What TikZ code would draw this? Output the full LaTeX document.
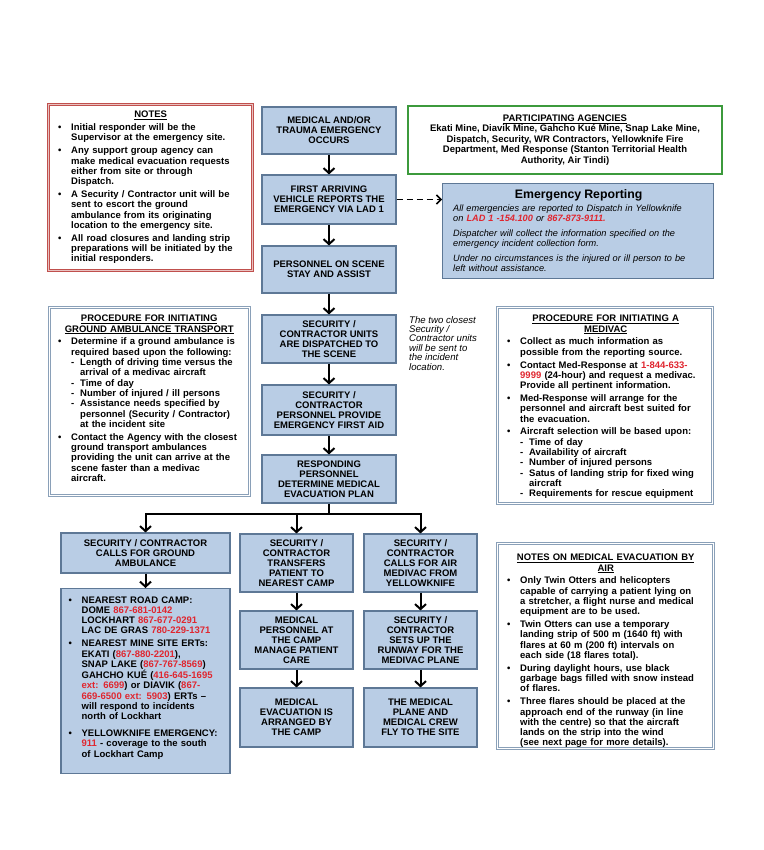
\documentclass[tikz,border=0pt]{standalone}
\usepackage{fontspec}
\setmainfont{Liberation Sans}
\usetikzlibrary{arrows.meta}
\definecolor{boxfill}{HTML}{B9CDE5}
\definecolor{boxdraw}{HTML}{5E7896}
\definecolor{procdraw}{HTML}{8AA0B8}
\definecolor{notered}{HTML}{C0504D}
\definecolor{agreen}{HTML}{3C9A3C}
\definecolor{telred}{HTML}{E0262F}
\newlength\bi \setlength\bi{17pt}
\newlength\di \setlength\di{26pt}
\newcommand\bitem{\par\vspace{2.5pt}\noindent\hangindent=\bi\hangafter=1\hbox to\bi{\hspace{4pt}\textbullet\hss}\ignorespaces}
\newcommand\ditem{\par\noindent\hangindent=\di\hangafter=1\hbox to\di{\hspace{\bi}-\hss}\ignorespaces}
\newcommand\nl{\newline}
\newcommand\tel[1]{\textcolor{telred}{#1}}
\newcommand\boxfont{\fontsize{9.5}{10}\selectfont\bfseries}
\newcommand\panelfont{\fontsize{9.5}{10.3}\selectfont\bfseries}
\tikzset{
  flow/.style={draw=boxdraw, fill=boxfill, line width=1.1pt, align=center, font=\boxfont, inner sep=1pt},
  panel/.style={draw=procdraw, fill=white, line width=0.8pt, double=white, double distance=0.8pt, inner sep=0pt, anchor=north west},
  redpanel/.style={panel, draw=notered, line width=1.2pt, double=notered!35, double distance=0.8pt},
  ptext/.style={font=\panelfont, align=left, inner sep=0pt, anchor=north west},
  arr/.style={line width=2pt, -{Straight Barb[length=5pt,width=11pt]}},
  dasharr/.style={line width=1.5pt, dash pattern=on 6pt off 4pt, -{Straight Barb[length=4.5pt,width=9pt]}},
  link/.style={line width=2pt}
}
\begin{document}
\begin{tikzpicture}[x=1pt,y=-1pt]
\useasboundingbox (0,0) rectangle (763,850);
\fill[white] (0,0) rectangle (763,850);

% ---------- centre column ----------
\node[flow, minimum width=134pt, minimum height=47pt] (A) at (329,130.5) {MEDICAL AND/OR\\TRAUMA EMERGENCY\\OCCURS};
\node[flow, minimum width=134pt, minimum height=49pt] (B) at (329,199.5) {FIRST ARRIVING\\VEHICLE REPORTS THE\\EMERGENCY VIA LAD 1};
\node[flow, minimum width=134pt, minimum height=47pt] (C) at (329,269.5) {PERSONNEL ON SCENE\\STAY AND ASSIST};
\node[flow, minimum width=134pt, minimum height=48pt] (D) at (329,339) {SECURITY /\\CONTRACTOR UNITS\\ARE DISPATCHED TO\\THE SCENE};
\node[flow, minimum width=134pt, minimum height=50pt] (E) at (329,410) {SECURITY /\\CONTRACTOR\\PERSONNEL PROVIDE\\EMERGENCY FIRST AID};
\node[flow, minimum width=134pt, minimum height=48pt] (F) at (329,479) {RESPONDING\\PERSONNEL\\DETERMINE MEDICAL\\EVACUATION PLAN};

\node[anchor=north west, align=left, inner sep=0pt, font=\fontsize{9.6}{9.4}\selectfont\itshape] (note) at (409,316)
  {The two closest\\Security /\\Contractor units\\will be sent to\\the incident\\location.};

% ---------- bottom columns ----------
\node[flow, minimum width=169pt, minimum height=40pt] (G1) at (145.5,553) {SECURITY / CONTRACTOR\\CALLS FOR GROUND\\AMBULANCE};
\node[flow, minimum width=169pt, minimum height=185pt, anchor=north] (G2) at (145.5,588) {};
\node[ptext, text width=162pt] (G2t) at ([xshift=4pt,yshift=-2pt]G2.north west) {%
\bitem NEAREST ROAD CAMP:\nl DOME \tel{867-681-0142}\nl LOCKHART \tel{867-677-0291}\nl LAC DE GRAS \tel{780-229-1371}
\bitem NEAREST MINE SITE ERTs:\nl EKATI (\tel{867-880-2201}),\nl SNAP LAKE (\tel{867-767-8569})\nl GAHCHO KUÉ (\tel{416-645-1695}\nl \tel{ext: 6699}) or DIAVIK (\tel{867-}\nl \tel{669-6500 ext: 5903}) ERTs –\nl will respond to incidents\nl north of Lockhart
\par\vspace{4pt}
\bitem YELLOWKNIFE EMERGENCY:\nl \tel{911} - coverage to the south\nl of Lockhart Camp\par};

\node[flow, minimum width=113pt, minimum height=58pt] (H1) at (296.5,563) {SECURITY /\\CONTRACTOR\\TRANSFERS\\PATIENT TO\\NEAREST CAMP};
\node[flow, minimum width=113pt, minimum height=58pt] (H2) at (296.5,640) {MEDICAL\\PERSONNEL AT\\THE CAMP\\MANAGE PATIENT\\CARE};
\node[flow, minimum width=113pt, minimum height=59pt] (H3) at (296.5,717.5) {MEDICAL\\EVACUATION IS\\ARRANGED BY\\THE CAMP};

\node[flow, minimum width=113pt, minimum height=58pt] (I1) at (420.5,563) {SECURITY /\\CONTRACTOR\\CALLS FOR AIR\\MEDIVAC FROM\\YELLOWKNIFE};
\node[flow, minimum width=113pt, minimum height=58pt] (I2) at (420.5,640) {SECURITY /\\CONTRACTOR\\SETS UP THE\\RUNWAY FOR THE\\MEDIVAC PLANE};
\node[flow, minimum width=113pt, minimum height=59pt] (I3) at (420.5,717.5) {THE MEDICAL\\PLANE AND\\MEDICAL CREW\\FLY TO THE SITE};

% ---------- NOTES (red) ----------
\node[redpanel, minimum width=204pt, minimum height=166pt] (N) at (48,104) {};
\node[ptext, text width=193pt] (Nt) at ([xshift=6pt,yshift=-7pt]N.north west) {%
{\centering\underline{NOTES}\par}
\bitem Initial responder will be the\nl Supervisor at the emergency site.
\bitem Any support group agency can\nl make medical evacuation requests\nl either from site or through\nl Dispatch.
\bitem A Security / Contractor unit will be\nl sent to escort the ground\nl ambulance from its originating\nl location to the emergency site.
\bitem All road closures and landing strip\nl preparations will be initiated by the\nl initial responders.\par};

% ---------- Participating agencies ----------
\node[draw=agreen, line width=1.3pt, fill=white, minimum width=314pt, minimum height=68pt, align=center,
      font=\fontsize{9.5}{10.4}\selectfont\bfseries] (P) at (565,140)
  {\underline{PARTICIPATING AGENCIES}\\Ekati Mine, Diavik Mine, Gahcho Kué Mine, Snap Lake Mine,\\Dispatch, Security, WR Contractors, Yellowknife Fire\\Department, Med Response (Stanton Territorial Health\\Authority, Air Tindi)};

% ---------- Emergency reporting ----------
\node[draw=boxdraw, fill=boxfill, line width=1.1pt, minimum width=271pt, minimum height=95pt, anchor=north west, inner sep=0pt] (R) at (442,183) {};
\node[anchor=north west, inner sep=0pt, text width=257pt, align=left, font=\fontsize{9.2}{10}\selectfont] (Rt) at ([xshift=11pt,yshift=-6pt]R.north west) {%
{\centering\hspace*{-6pt}\fontsize{12.3}{14}\selectfont\bfseries Emergency Reporting\par}
\vspace{3pt}
\itshape All emergencies are reported to Dispatch in Yellowknife\\on \textcolor{telred}{\bfseries LAD 1 -154.100} or \textcolor{telred}{\bfseries 867-873-9111.}\par\vspace{5pt}
Dispatcher will collect the information specified on the\\emergency incident collection form.\par\vspace{5pt}
Under no circumstances is the injured or ill person to be\\left without assistance.\par};

% ---------- Ground ambulance procedure ----------
\node[panel, minimum width=200pt, minimum height=188pt] (GP) at (49,307) {};
\node[ptext, text width=190pt] (GPt) at ([xshift=5pt,yshift=-8pt]GP.north west) {%
{\centering\underline{PROCEDURE FOR INITIATING}\\\underline{GROUND AMBULANCE TRANSPORT}\par}
\bitem Determine if a ground ambulance is\nl required based upon the following:
\ditem Length of driving time versus the\nl arrival of a medivac aircraft
\ditem Time of day
\ditem Number of injured / ill persons
\ditem Assistance needs specified by\nl personnel (Security / Contractor)\nl at the incident site
\bitem Contact the Agency with the closest\nl ground transport ambulances\nl providing the unit can arrive at the\nl scene faster than a medivac\nl aircraft.\par};

% ---------- Medivac procedure ----------
\node[panel, minimum width=215pt, minimum height=196pt] (MP) at (497,307) {};
\node[ptext, text width=205pt] (MPt) at ([xshift=6pt,yshift=-8pt]MP.north west) {%
{\centering\underline{PROCEDURE FOR INITIATING A}\\\underline{MEDIVAC}\par}
\bitem Collect as much information as\nl possible from the reporting source.
\bitem Contact Med-Response at \tel{1-844-633-}\nl \tel{9999} (24-hour) and request a medivac.\nl Provide all pertinent information.
\bitem Med-Response will arrange for the\nl personnel and aircraft best suited for\nl the evacuation.
\bitem Aircraft selection will be based upon:
\ditem Time of day
\ditem Availability of aircraft
\ditem Number of injured persons
\ditem Satus of landing strip for fixed wing\nl aircraft
\ditem Requirements for rescue equipment\par};

% ---------- Notes on air evacuation ----------
\node[panel, minimum width=216pt, minimum height=205pt] (AP) at (497,543) {};
\node[ptext, text width=205pt] (APt) at ([xshift=6pt,yshift=-11pt]AP.north west) {%
{\centering\underline{NOTES ON MEDICAL EVACUATION BY}\\\underline{AIR}\par}
\bitem Only Twin Otters and helicopters\nl capable of carrying a patient lying on\nl a stretcher, a flight nurse and medical\nl equipment are to be used.
\bitem Twin Otters can use a temporary\nl landing strip of 500 m (1640 ft) with\nl flares at 60 m (200 ft) intervals on\nl each side (18 flares total).
\bitem During daylight hours, use black\nl garbage bags filled with snow instead\nl of flares.
\bitem Three flares should be placed at the\nl approach end of the runway (in line\nl with the centre) so that the aircraft\nl lands on the strip into the wind\nl (see next page for more details).\par};

% ---------- connectors ----------
\draw[arr] (A) -- (B);
\draw[arr] (B) -- (C);
\draw[arr] (C) -- (D);
\draw[arr] (D) -- (E);
\draw[arr] (E) -- (F);
\draw[dasharr] (B.east) -- (B.east -| R.west);
\draw[link] (F.south) -- ++(0,10) coordinate (J);
\draw[arr] (J) -| (G1.north);
\draw[arr] (J) -| (I1.north);
\draw[arr] (J -| H1.north) -- (H1.north);
\draw[arr] (G1) -- (G2);
\draw[arr] (H1) -- (H2);
\draw[arr] (H2) -- (H3);
\draw[arr] (I1) -- (I2);
\draw[arr] (I2) -- (I3);
\end{tikzpicture}
\end{document}
